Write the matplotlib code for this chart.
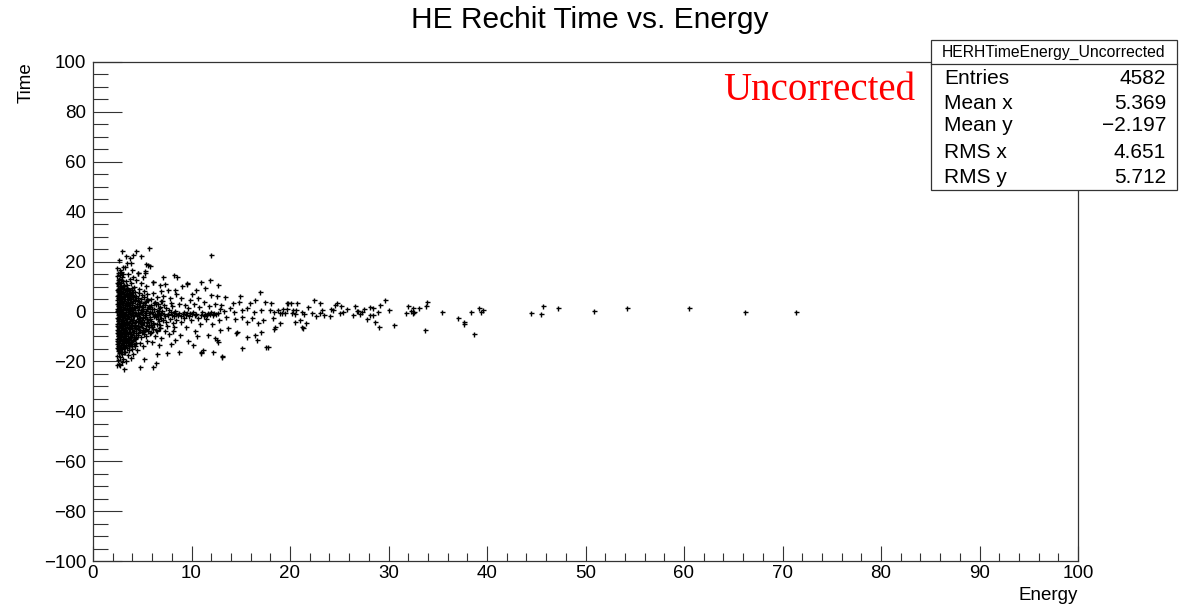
import matplotlib.pyplot as plt
from matplotlib.ticker import MultipleLocator

# dense core, energy 2.4 - 3.2
core_a_e = [2.48, 2.66, 2.91, 2.55, 3.05, 2.74, 2.44, 2.98, 2.60, 3.14, 2.83, 2.51,
            2.69, 2.95, 2.47, 3.10, 2.78, 2.58, 3.02, 2.87, 2.45, 2.66,
            3.17, 2.53, 2.92, 2.74, 2.43, 3.06, 2.61, 2.83, 2.50, 3.12,
            2.70, 2.96, 2.46, 2.79, 3.00, 2.57, 2.88, 2.44, 3.15, 2.64,
            2.82, 2.51, 3.04, 2.73, 2.93, 2.47, 2.60, 3.11, 2.85, 2.55,
            2.98, 2.68, 2.43, 3.08, 2.77, 2.90, 2.52, 3.18, 2.63, 2.81,
            2.46, 3.01, 2.72, 2.58, 2.94, 2.44, 3.13, 2.67, 2.86, 2.54,
            3.05, 2.75, 2.48, 2.91, 2.62, 3.10, 2.80, 2.45, 2.97, 2.70,
            2.56, 3.03, 2.84, 2.49, 2.66, 3.16, 2.76, 2.93, 2.52, 2.87,
            2.44, 3.07, 2.64, 2.79, 2.98, 2.50, 2.71, 3.12, 2.58, 2.89,
            2.46, 2.68, 3.00, 2.55, 2.82,
            2.61, 2.94, 2.47, 2.78, 3.09, 2.53, 2.86, 2.70, 2.45, 3.01]
core_a_t = [-21.6, -20.9, -20.2, -19.4, -18.9, -18.3, -17.7, -17.2, -16.8, -16.4, -16.1, -15.8,
            -15.4, -15.1, -14.8, -14.5, -14.3, -13.9, -13.6, -13.3, -13.0, -12.7,
            -12.4, -12.1, -11.8, -11.5, -11.2, -10.9, -10.6, -10.3, -10.0, -9.7,
            -9.4, -9.1, -8.8, -8.5, -8.2, -7.9, -7.6, -7.3, -7.0, -6.7,
            -6.4, -6.1, -5.8, -5.5, -5.2, -4.9, -4.6, -4.3, -4.0, -3.7,
            -3.4, -3.1, -2.8, -2.5, -2.2, -1.9, -1.6, -1.3, -1.0, -0.7,
            -0.4, -0.1, 0.2, 0.5, 0.8, 1.1, 1.4, 1.7, 2.0, 2.3,
            2.6, 2.9, 3.2, 3.5, 3.8, 4.1, 4.4, 4.7, 5.0, 5.3,
            5.6, 5.9, 6.2, 6.5, 6.8, 7.1, 7.4, 7.7, 8.0, 8.3,
            8.6, 8.9, 9.2, 9.5, 9.8, 10.1, 10.4, 10.7, 11.0, 11.3,
            11.6, 11.9, 12.2, 12.5, 12.8,
            13.2, 13.7, 14.1, 14.6, 15.0, 15.5, 16.0, 16.6, 17.3, 17.9]

# dense core, energy 3.2 - 4.2
core_b_e = [3.35, 3.82, 3.55, 4.05, 3.28, 3.70, 3.95,
            3.24, 3.61, 3.92, 3.40, 3.77, 4.12, 3.31, 3.68, 4.01, 3.49,
            3.85, 3.22, 3.57, 4.16, 3.73, 3.36, 3.96, 3.52, 3.88, 3.27,
            3.44, 3.79, 4.09, 3.26, 3.63, 3.98, 3.38, 3.71, 4.14, 3.50,
            3.86, 3.23, 3.59, 3.93, 3.33, 3.75, 4.04, 3.46, 3.81, 3.29,
            3.66, 4.10, 3.42, 3.90, 3.25, 3.54, 3.80, 4.07, 3.37, 3.69,
            3.99, 3.30, 3.62, 3.87, 4.13, 3.47, 3.74, 3.21, 3.58, 3.94,
            3.34, 3.78, 4.02, 3.53, 3.84, 3.28, 3.65, 4.11, 3.41, 3.72,
            3.97, 3.32, 3.56, 3.89, 4.06, 3.43, 3.76, 3.24, 3.60, 3.91,
            3.45, 3.90, 3.30, 3.75, 4.08, 3.58, 3.98]
core_b_t = [-19.8, -18.6, -17.5, -16.9, -16.2, -15.5, -14.9,
            -14.4, -14.0, -13.8, -13.5, -13.1, -12.9, -12.6, -12.2, -11.9, -11.7,
            -11.3, -11.0, -10.8, -10.4, -10.1, -9.9, -9.5, -9.2, -9.0, -8.6,
            -8.3, -8.1, -7.7, -7.4, -7.2, -6.8, -6.5, -6.3, -5.9, -5.6,
            -5.4, -5.0, -4.7, -4.5, -4.1, -3.8, -3.6, -3.2, -2.9, -2.7,
            -2.3, -2.0, -1.8, -1.4, -1.1, -0.9, -0.5, -0.2, 0.0, 0.4,
            0.7, 0.9, 1.3, 1.6, 1.8, 2.2, 2.5, 2.7, 3.1, 3.4,
            3.6, 4.0, 4.3, 4.5, 4.9, 5.2, 5.4, 5.8, 6.1, 6.3,
            6.7, 7.0, 7.2, 7.6, 7.9, 8.1, 8.5, 8.8, 9.0, 9.4,
            10.6, 11.4, 12.3, 13.1, 14.0, 15.2, 16.8]

# extra fill of the core, energy 2.4 - 4.4
core_d_e = [2.52, 3.47, 2.88, 4.25, 3.12, 2.63, 3.83, 4.40, 2.95, 3.58,
            2.45, 4.05, 3.29, 2.76, 3.70, 4.32, 3.05, 2.58, 3.95, 3.38,
            2.49, 3.51, 2.84, 4.18, 3.15, 2.67, 3.79, 4.36, 2.99, 3.62,
            2.42, 4.01, 3.26, 2.72, 3.66, 4.28, 3.09, 2.55, 3.91, 3.34,
            2.56, 3.44, 2.91, 4.21, 3.18, 2.60, 3.87, 4.38, 2.93, 3.55,
            2.47, 4.09, 3.32, 2.79, 3.74, 4.30, 3.02, 2.61, 3.99, 3.41,
            2.50, 3.49, 2.86, 4.23, 3.10, 2.65, 3.81, 4.34, 2.97, 3.60,
            2.44, 4.03, 3.27, 2.74, 3.68, 4.26, 3.07, 2.57, 3.93, 3.36,
            2.53, 3.45, 2.89, 4.15, 3.14]
core_d_t = [-14.85, -14.6, -14.25, -13.95, -13.7, -13.35, -13.05, -12.75, -12.45, -12.2,
            -11.85, -11.55, -11.3, -10.95, -10.65, -10.35, -10.05, -9.8, -9.45, -9.15,
            -8.9, -8.55, -8.25, -7.95, -7.65, -7.4, -7.05, -6.75, -6.5, -6.15,
            -5.85, -5.6, -5.25, -4.95, -4.65, -4.35, -4.1, -3.75, -3.45, -3.2,
            -2.85, -2.55, -2.25, -1.95, -1.7, -1.35, -1.05, -0.8, -0.45, -0.15,
            0.1, 0.45, 0.75, 1.0, 1.35, 1.65, 1.9, 2.25, 2.55, 2.8,
            3.15, 3.45, 3.7, 4.05, 4.35, 4.6, 4.95, 5.25, 5.5, 5.85,
            6.15, 6.4, 6.75, 7.05, 7.3, 7.65, 7.95, 8.2, 8.55, 8.85,
            9.1, 9.45, 9.75, 10.0, 10.35]

# energy 4.2 - 5.6
core_c_e = [4.25, 4.88, 5.42, 4.56, 5.15, 4.33, 4.97, 5.55, 4.70, 5.28, 4.41, 5.05, 4.62, 5.36,
            4.29, 4.84, 5.47, 4.52, 5.19, 4.37, 5.01, 5.51, 4.74, 5.24, 4.45, 5.09, 4.66, 5.32,
            4.22, 4.92, 5.38, 4.59, 5.12, 4.31, 4.95, 5.58, 4.68, 5.26, 4.43, 5.03, 4.64, 5.34,
            4.27, 4.86, 5.44, 4.54, 5.17, 4.35, 4.99, 5.53, 4.72,
            4.45, 5.10, 4.78, 5.48, 4.30, 5.22, 4.66, 5.40, 4.90, 4.38, 5.12, 4.60, 5.30]
core_c_t = [-10.5, -10.1, -9.8, -9.4, -9.1, -8.7, -8.3, -8.0, -7.6, -7.3, -6.9, -6.6, -6.2, -5.8,
            -5.5, -5.1, -4.8, -4.4, -4.1, -3.7, -3.3, -3.0, -2.6, -2.3, -1.9, -1.6, -1.2, -0.8,
            -0.5, -0.1, 0.2, 0.6, 0.9, 1.3, 1.7, 2.0, 2.4, 2.7, 3.1, 3.4, 3.8, 4.2,
            4.5, 4.9, 5.2, 5.6, 5.9, 6.3, 6.7, 7.0, 7.4,
            -15.3, -13.8, -12.6, -11.7, -11.2, 8.3, 9.1, 10.2, 11.6, 12.8, 13.9, 15.3, 16.2]

# extra fill, energy 4.5 - 7
fill_e = [4.55, 5.85, 5.05, 6.45, 4.80, 6.10, 5.40, 6.80, 4.65, 5.65,
          4.60, 5.90, 5.00, 6.50, 4.85, 6.05, 5.45, 6.75, 4.70, 5.60,
          4.52, 5.80, 5.10, 6.40, 4.75, 6.15, 5.35, 6.85, 4.62, 5.70,
          4.58, 5.95, 4.98, 6.55, 4.90, 6.00, 5.50, 6.70, 4.68, 5.75,
          4.50, 5.88, 5.12, 6.35, 4.82, 6.20, 5.30, 6.90, 4.72, 5.62]
fill_t = [-8.5, -8.2, -7.95, -7.7, -7.4, -7.15, -6.9, -6.6, -6.35, -6.1,
          -5.8, -5.55, -5.3, -5.0, -4.75, -4.5, -4.2, -3.95, -3.7, -3.4,
          -3.15, -2.9, -2.6, -2.35, -2.1, -1.8, -1.55, -1.3, -1.0, -0.75,
          -0.5, -0.2, 0.05, 0.3, 0.6, 0.85, 1.1, 1.4, 1.65, 1.9,
          2.2, 2.45, 2.7, 3.0, 3.25, 3.5, 3.8, 4.05, 4.3, 4.6]

# energy 5.6 - 8.5
mid_e = [5.65, 6.20, 6.85, 7.40, 8.10, 5.90, 6.55, 7.10, 7.85, 8.40,
         5.75, 6.35, 6.95, 7.60, 8.25, 6.05, 6.70, 7.25, 7.95, 5.80,
         6.45, 7.05, 7.70, 8.35, 6.15, 6.80, 7.45, 8.05, 5.70, 6.60,
         7.20, 7.90, 6.30, 7.00, 5.95, 6.75, 7.55, 8.20, 6.40, 7.30,
         5.85, 6.50, 7.15, 7.80, 8.45, 6.10, 6.90, 7.60, 8.30, 6.80, 6.10, 7.10, 8.20, 8.50, 7.35,
         5.75, 6.30, 6.95, 7.70, 8.35, 6.00, 6.65, 7.50, 6.50, 6.40, 6.10, 4.80, 3.10, 2.70, 5.20, 7.95, 8.10,
         2.98, 3.40, 2.67, 3.50, 3.76, 4.10, 4.37, 5.70, 5.60, 4.90, 5.35, 5.80, 3.90, 3.25, 2.74, 4.60, 5.30, 6.10]
mid_t = [-5.6, -4.9, -5.3, -4.2, -4.6, -3.8, -3.2, -3.6, -2.9, -3.3,
         -2.4, -1.9, -2.6, -1.5, -2.0, -1.1, -0.7, -1.2, -0.4, -0.2,
         0.4, 0.1, 0.8, 0.3, 1.2, 1.7, 1.4, 2.1, 2.4, 2.9,
         2.6, 3.3, 3.8, 4.2, -6.3, -6.8, -5.9, -6.4, -7.4, -7.9,
         5.1, 5.8, 6.4, 5.3, 6.9, 7.6, 8.3, 8.6, 8.6, 10.6, 12.0, 14.0, 14.6, 13.7, 10.9,
         -8.6, -9.7, -10.8, -9.2, -11.4, -12.3, -13.5, -16.8, -17.2, -20.8, -22.1, -22.4, -23.2, -21.4, -19.2, -13.1, -8.0,
         24.4, 22.4, 20.6, 19.3, 21.3, 22.6, 24.2, 25.3, 18.6, 22.4, 19.0, 18.2, 19.3, 18.0, 15.3, 15.3, 15.3, 12.0]

# streak near zero, energy 6 - 13
streak_e = [8.40, 8.60, 8.75, 8.95, 9.10, 9.25, 9.40, 9.55, 9.70, 9.85, 10.00, 10.20, 10.35, 10.50,
            10.95, 11.10, 11.25, 11.40, 11.55, 11.70, 11.85, 12.00, 12.15, 12.30, 12.50, 12.70,
            6.25, 6.55, 6.90, 7.30, 7.65, 8.00, 8.20]
streak_t = [-0.9, -1.4, -0.5, -1.7, -1.0, -0.3, -1.5, -0.8, -1.9, -0.6, -1.2, -0.2, -1.6, -0.9,
            -1.3, -0.4, -1.8, -0.9, -1.4, -0.6, -1.1, -0.3, -1.5, -0.8, -1.2, -0.5,
            -0.9, -1.5, -0.8, -1.7, -0.9, -1.3, -0.6]

# scatter, energy 8.5 - 13.5
outer_e = [9.0, 9.5, 10.5, 11.4, 11.0, 11.9, 12.7, 12.0, 12.6, 13.4, 9.5, 10.1, 8.9, 9.8, 10.7, 11.3,
           12.4, 8.7, 9.3, 10.3, 11.8, 13.0, 9.6, 10.8, 12.9, 13.3, 12.0,
           8.7, 11.0, 11.2, 12.2, 13.1, 11.7, 12.4, 12.7, 12.9, 13.7, 8.9, 9.4, 9.9, 10.4, 10.9,
           11.5, 12.1, 8.8, 9.6, 10.2, 10.6, 9.2, 10.7, 12.8, 13.5, 11.0, 12.6]
outer_t = [10.2, 11.0, 8.6, 9.3, 11.9, 12.6, 10.6, 6.6, 6.2, 5.7, 11.3, 7.2, 5.6, 4.8, 5.3, 3.9,
           3.1, 3.2, 2.5, 2.9, 2.2, 2.6, 1.4, 1.8, 1.1, 0.4, 22.6,
           -16.1, -16.8, -15.4, -16.1, -18.1, -9.4, -10.7, -12.1, -7.4, -6.7, -4.2, -6.1, -3.5, -7.8, -4.9,
           -3.2, -5.2, -9.3, -11.8, -13.4, -9.9, -2.8, -2.6, -3.4, -2.2, -16.1, -11.4]

# sparse high-energy tail
tail_e = [13.9, 14.3, 14.2, 14.8, 14.9, 15.1, 15.6, 15.9, 16.3, 16.4, 17.0, 17.1, 17.5, 18.0, 18.1,
          18.4, 18.8, 19.2, 14.4, 15.1, 15.6, 16.1, 16.8, 17.3, 18.3, 18.5, 19.0, 16.4, 17.1, 15.6,
          14.6, 15.1, 17.6, 14.5, 16.6, 18.4, 13.1, 17.8, 19.8,
          19.0, 19.3, 19.7, 20.1, 20.7, 19.5, 19.7, 20.2, 20.3, 20.5, 20.6, 21.2, 21.4, 20.5, 21.0,
          21.2, 21.3, 21.6, 21.8, 22.2, 22.4, 22.6, 23.0, 23.0, 23.2, 23.5, 24.1, 24.2, 24.4, 24.6,
          24.8, 25.1, 25.2, 25.4, 25.8, 26.4, 26.6, 26.8, 26.9, 27.1, 27.3, 27.5, 27.8, 28.1, 28.1,
          28.4, 28.4, 28.6, 29.0, 28.9, 29.1, 29.6, 30.0, 30.6, 31.8, 32.0, 32.3, 32.5, 32.6, 32.5,
          33.1, 33.8, 33.9, 33.7, 35.4, 37.1, 37.7, 37.7, 38.4, 38.7, 39.2, 39.4, 39.6,
          44.5, 45.5, 45.7, 47.2, 50.9, 54.2, 60.5, 66.2, 71.4]
tail_t = [1.3, -0.1, 3.3, 3.9, 6.2, 0.6, 1.3, 3.5, -0.1, 4.6, 7.9, 0.6, 3.9, 0.6, 3.3,
          -0.1, 0.6, -0.5, -3.1, -2.1, -4.1, -2.7, -4.7, -3.4, -2.7, -6.1, -4.7, -9.4, -8.1, -10.1,
          -8.1, -14.8, -14.4, -8.8, -11.4, -7.1, -17.8, -14.4, 3.5,
          -0.7, 0.9, 3.5, 3.3, 3.3, -0.7, 0.9, -0.5, 0.6, -1.1, 0.6, -0.3, -1.1, -4.3, -3.4,
          -6.1, -6.7, -4.5, 1.7, -0.7, 4.6, -1.8, 3.5, -0.5, 0.6, -1.4, -1.8, 0.9, 0.6, 2.6,
          3.3, -0.5, 2.3, -0.1, 0.9, -1.4, 2.3, 0.3, 0.2, -1.1, -0.3, 0.9, -3.0, 1.9, -1.4,
          1.5, -1.4, -4.1, -6.1, -0.1, 2.6, 4.6, 0.6, -5.4, -0.7, 2.2, 0.3, -0.5, -0.1, 1.3,
          1.3, 2.2, 3.9, -7.4, -0.1, -2.7, -4.1, -5.0, -0.3, -9.0, 1.3, -0.1, 0.6,
          -0.5, -1.0, 2.3, 1.5, 0.2, 1.3, 1.3, -0.1, -0.1]

stat_names = ["Entries", "Mean x", "Mean y", "RMS x", "RMS y"]
stat_values = ["4582", "5.369", "\u22122.197", "4.651", "5.712"]

plt.rcParams['font.family'] = ['Liberation Sans', 'DejaVu Sans']

fig = plt.figure(figsize=(11.88, 6.12), dpi=100)
ax = fig.add_axes([93 / 1188, 1 - 561 / 612, 985 / 1188, 499 / 612])

energy = core_a_e + core_b_e + core_d_e + core_c_e + fill_e + mid_e + streak_e + outer_e + tail_e
time = core_a_t + core_b_t + core_d_t + core_c_t + fill_t + mid_t + streak_t + outer_t + tail_t
ax.plot(energy, time, linestyle='none', marker='+', markersize=3.6,
        markeredgewidth=1.0, color='black')

ax.set_xlim(0, 100)
ax.set_ylim(-100, 100)
ax.xaxis.set_major_locator(MultipleLocator(10))
ax.xaxis.set_minor_locator(MultipleLocator(2))
ax.yaxis.set_major_locator(MultipleLocator(20))
ax.yaxis.set_minor_locator(MultipleLocator(5))
ax.tick_params(axis='both', which='both', direction='in', top=False, right=False,
               labelsize=13.5, width=0.8, color='#333333')
ax.tick_params(axis='y', which='major', length=21, pad=5)
ax.tick_params(axis='y', which='minor', length=10.5)
ax.tick_params(axis='x', which='major', length=11, pad=3)
ax.tick_params(axis='x', which='minor', length=5.5)
for s in ax.spines.values():
    s.set_linewidth(0.9)
    s.set_color('#333333')

fig.text(590 / 1188, 1 - 20 / 612, "HE Rechit Time vs. Energy", ha='center', va='center',
         fontsize=21.5)
fig.text(26 / 1188, 1 - 62 / 612, "Time", rotation=90, ha='center', va='top', fontsize=13.5)
fig.text(1078 / 1188, 1 - 595 / 612, "Energy", ha='right', va='center', fontsize=13.5)
fig.text(723 / 1188, 1 - 90 / 612, "Uncorrected", ha='left', va='center', color='red',
         fontsize=28, family=['Liberation Serif', 'DejaVu Serif'])

# stats box
bx0, bx1, by0, by1, hy = 931, 1177, 40, 190, 64
fig.patches.append(plt.Rectangle((bx0 / 1188, 1 - by1 / 612), (bx1 - bx0) / 1188,
                                 (by1 - by0) / 612, transform=fig.transFigure,
                                 facecolor='white', edgecolor='#333333', linewidth=0.9,
                                 zorder=5))
fig.add_artist(plt.Line2D([bx0 / 1188, bx1 / 1188], [1 - hy / 612, 1 - hy / 612],
                          transform=fig.transFigure, color='#333333', linewidth=0.9, zorder=6))
fig.text((bx0 + bx1) / 2 / 1188, 1 - 52 / 612, "HERHTimeEnergy_Uncorrected", ha='center',
         va='center', fontsize=11.3, zorder=7)
row_y = [78, 103, 126, 153, 177]
for name, val, yy in zip(stat_names, stat_values, row_y):
    fig.text(944 / 1188, 1 - yy / 612, name, ha='left', va='center', fontsize=15, zorder=7)
    fig.text(1166 / 1188, 1 - yy / 612, val, ha='right', va='center', fontsize=15, zorder=7)

fig.savefig("out.png", dpi=100)
